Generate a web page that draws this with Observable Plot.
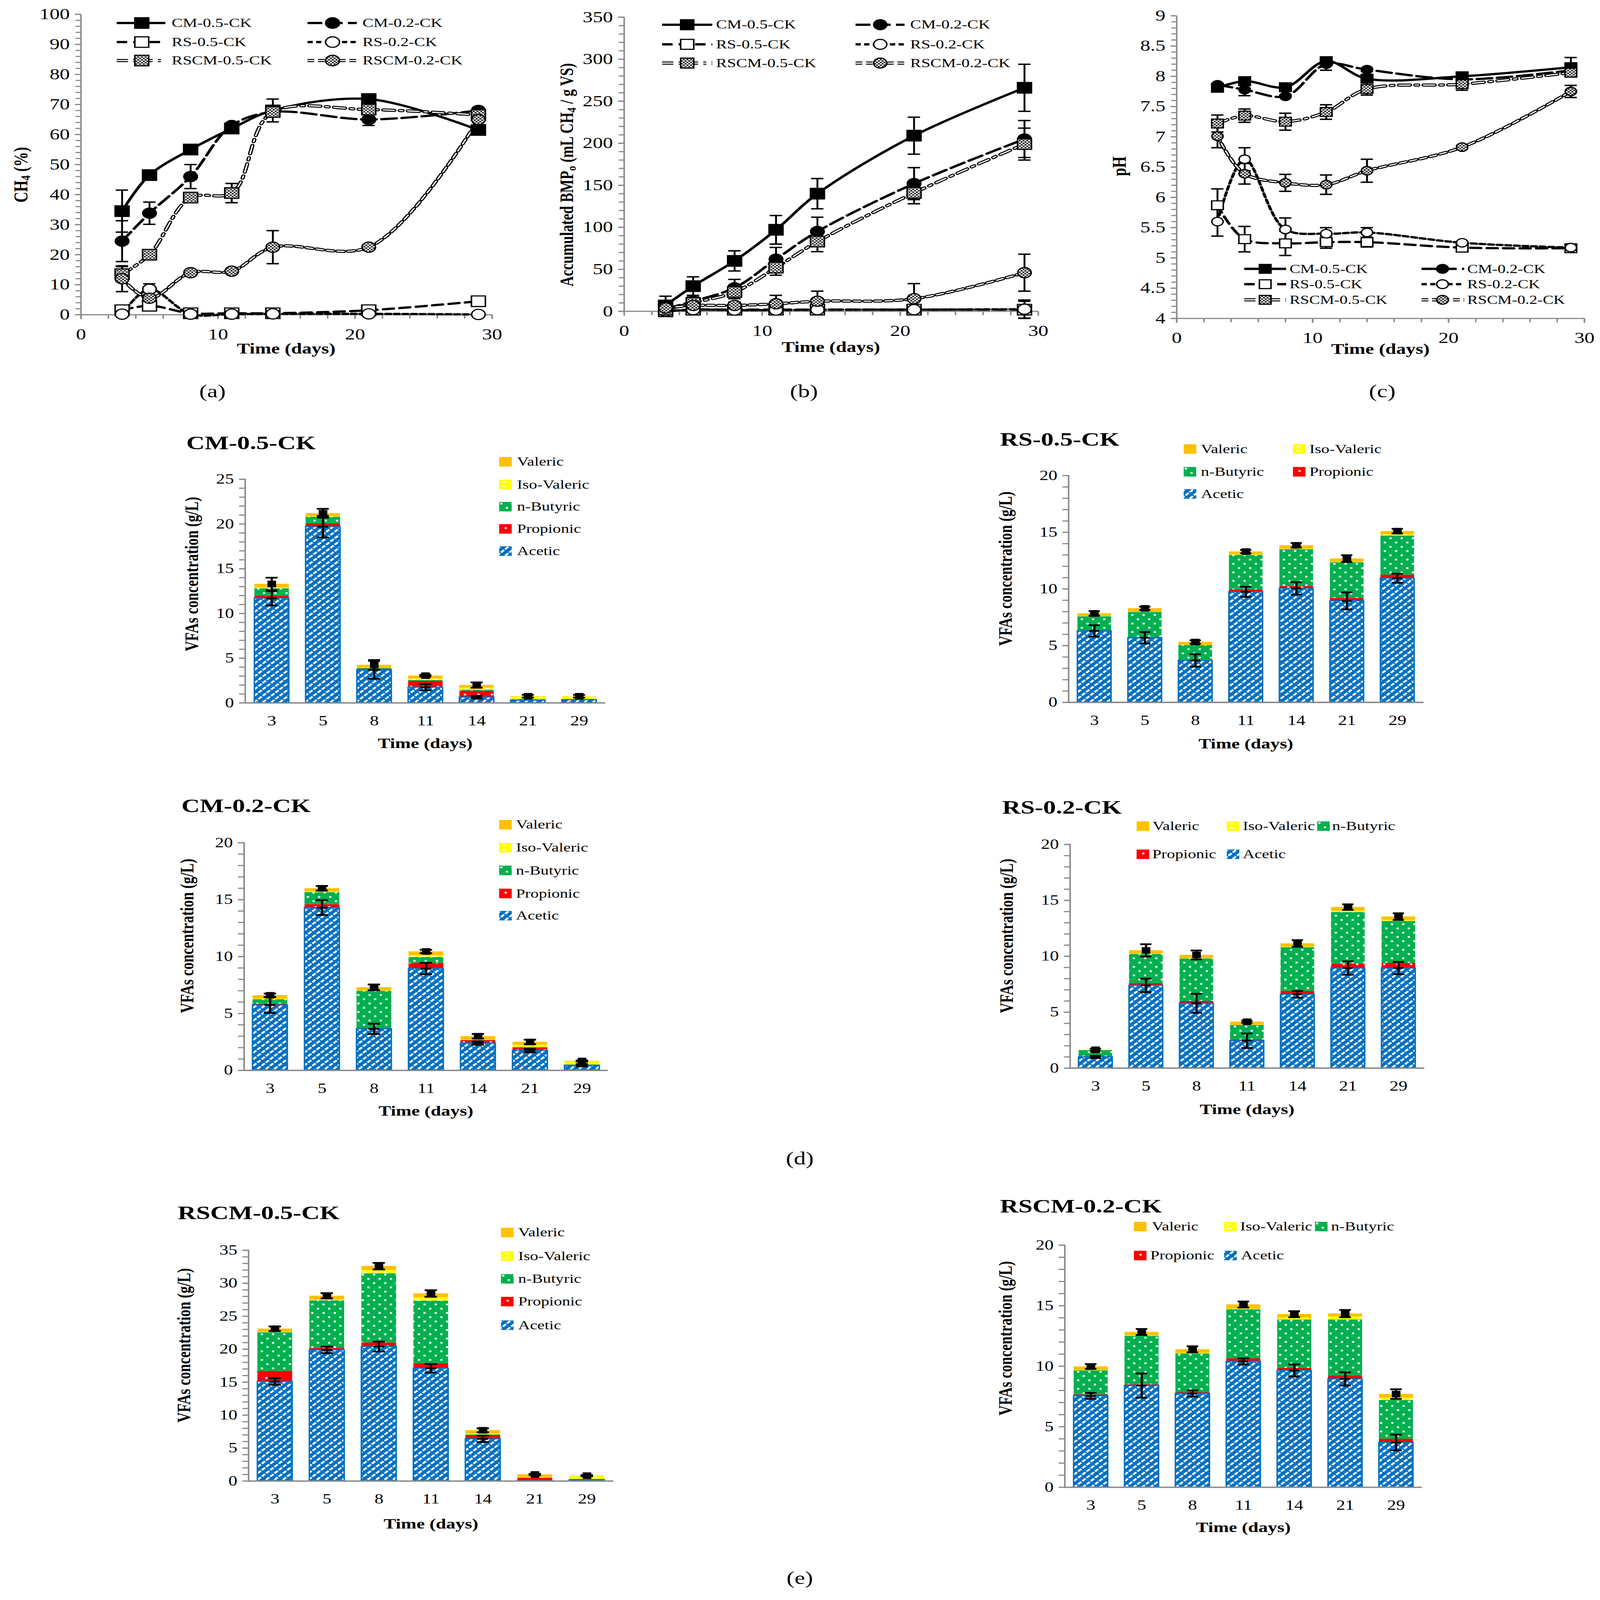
<!DOCTYPE html>
<html><head><meta charset="utf-8">
<script src="https://cdn.jsdelivr.net/npm/d3@7"></script>
<script src="https://cdn.jsdelivr.net/npm/@observablehq/plot@0.6"></script>
<style>
html,body{margin:0;padding:0;background:#fff;overflow:hidden;}
#page{position:relative;width:4277px;height:5630px;background:#fff;overflow:hidden;font-family:"Liberation Serif","Times New Roman",serif;color:#000;}
.t{position:absolute;white-space:nowrap;line-height:1;}
.t sub{font-size:0.68em;vertical-align:-0.22em;line-height:0;}
</style></head>
<body><div id="page">
<svg width="0" height="0" style="position:absolute;left:0;top:0" aria-hidden="true"><defs>
<pattern id="pAcetic" patternUnits="userSpaceOnUse" width="16" height="16" patternTransform="rotate(45)">
<rect width="16" height="16" fill="#0070C0"/><rect x="0" y="0" width="6" height="12" fill="#ffffff"/></pattern>
<pattern id="pProp" patternUnits="userSpaceOnUse" width="36" height="28">
<rect width="36" height="28" fill="#FF0000"/><rect x="15" y="11" width="6" height="6" fill="#ffffff"/></pattern>
<pattern id="pBut" patternUnits="userSpaceOnUse" width="30" height="30">
<rect width="30" height="30" fill="#00B050"/><rect x="3" y="3" width="6" height="6" fill="#ffffff"/><rect x="18" y="18" width="6" height="6" fill="#ffffff"/></pattern>
<pattern id="pIso" patternUnits="userSpaceOnUse" width="28" height="16">
<rect width="28" height="16" fill="#FFFF00"/><rect x="9" y="6" width="10" height="4" fill="#ffffff"/></pattern>
<pattern id="checker" patternUnits="userSpaceOnUse" width="10" height="10">
<rect width="10" height="10" fill="#ffffff"/><rect x="0" y="0" width="5" height="5" fill="#222"/><rect x="5" y="5" width="5" height="5" fill="#222"/></pattern>
</defs></svg>
</div>
<script>
// ---------------- DATA ----------------
const days = [3, 5, 8, 11, 14, 21, 29];
const dayLabels = ["3", "5", "8", "11", "14", "21", "29"];
const seriesNames = ["CM-0.5-CK", "CM-0.2-CK", "RS-0.5-CK", "RS-0.2-CK", "RSCM-0.5-CK", "RSCM-0.2-CK"];

// (a) CH4 (%)
const ch4CM05 = [34.5, 46.5, 55.0, 62.0, 68.0, 71.8, 61.5];
const ch4CM05Err = [7.0, 0.8, 0.8, 0.8, 3.8, 0.8, 0.8];
const ch4CM02 = [24.5, 33.8, 46.0, 63.0, 67.5, 65.0, 68.0];
const ch4CM02Err = [6.8, 3.7, 4.0, 0.5, 0.5, 2.0, 1.0];
const ch4RS05 = [1.5, 3.0, 0.5, 0.5, 0.5, 1.5, 4.5];
const ch4RS05Err = [0.5, 0.5, 0.3, 0.3, 0.3, 0.5, 1.0];
const ch4RS02 = [0.2, 8.5, 0.2, 0.2, 0.3, 0.3, 0.1];
const ch4RS02Err = [0.3, 1.8, 0.2, 0.2, 0.2, 0.2, 0.2];
const ch4RSCM05 = [13.5, 20.0, 39.0, 40.5, 67.5, 68.3, 66.5];
const ch4RSCM05Err = [2.5, 0.5, 0.8, 3.2, 0.5, 0.5, 1.0];
const ch4RSCM02 = [12.0, 5.5, 14.0, 14.5, 22.5, 22.5, 65.0];
const ch4RSCM02Err = [4.3, 1.0, 0.5, 0.5, 5.5, 0.5, 1.0];

// (b) Accumulated BMPo (mL CH4 / g VS)
const bmpCM05 = [7, 30, 60, 97, 140, 209, 266];
const bmpCM05Err = [11, 11, 12, 17, 18, 22, 28];
const bmpCM02 = [3, 12, 28, 62, 95, 152, 205];
const bmpCM02Err = [3, 5, 10, 14, 17, 19, 22];
const bmpRS05 = [0, 2, 2, 2, 2, 2, 2];
const bmpRS05Err = [0.5, 0.5, 0.5, 0.5, 0.5, 0.5, 10];
const bmpRS02 = [0, 2, 1.5, 1.5, 2, 2, 2.5];
const bmpRS02Err = [0.5, 0.5, 0.5, 0.5, 0.5, 0.5, 11];
const bmpRSCM05 = [2, 10, 23, 52, 83, 141, 199];
const bmpRSCM05Err = [2, 5, 8, 9, 12, 13, 19];
const bmpRSCM02 = [4, 7, 7, 9, 12, 15, 46];
const bmpRSCM02Err = [2, 4, 4, 10, 12, 18, 22];

// (c) pH
const phCM05 = [7.81, 7.92, 7.82, 8.25, 7.96, 8.00, 8.15];
const phCM05Err = [0.02, 0.03, 0.03, 0.04, 0.05, 0.03, 0.16];
const phCM02 = [7.86, 7.78, 7.67, 8.20, 8.11, 7.95, 8.10];
const phCM02Err = [0.02, 0.10, 0.02, 0.10, 0.03, 0.03, 0.05];
const phRS05 = [5.87, 5.31, 5.24, 5.26, 5.26, 5.17, 5.16];
const phRS05Err = [0.27, 0.21, 0.20, 0.10, 0.08, 0.02, 0.02];
const phRS02 = [5.60, 6.63, 5.47, 5.40, 5.42, 5.25, 5.17];
const phRS02Err = [0.24, 0.19, 0.19, 0.10, 0.08, 0.02, 0.02];
const phRSCM05 = [7.22, 7.35, 7.25, 7.41, 7.79, 7.87, 8.06];
const phRSCM05Err = [0.14, 0.11, 0.14, 0.12, 0.10, 0.10, 0.05];
const phRSCM02 = [7.01, 6.39, 6.24, 6.21, 6.44, 6.83, 7.75];
const phRSCM02Err = [0.19, 0.17, 0.14, 0.16, 0.19, 0.03, 0.10];

// VFAs (g/L): stack order Acetic, Propionic, n-Butyric, Iso-Valeric, Valeric
const acidNames = ["Acetic", "Propionic", "n-Butyric", "Iso-Valeric", "Valeric"];

const cm05Acetic = [11.7, 19.7, 3.70, 1.75, 0.65, 0.30, 0.35];
const cm05Propionic = [0.30, 0.35, 0.10, 0.70, 0.70, 0.05, 0.05];
const cm05Butyric = [0.80, 0.75, 0.10, 0.10, 0.10, 0.05, 0.02];
const cm05IsoValeric = [0.10, 0.05, 0.05, 0.15, 0.25, 0.30, 0.30];
const cm05Valeric = [0.40, 0.35, 0.30, 0.35, 0.30, 0.05, 0.03];
const cm05AceticErr = [0.80, 1.20, 1.00, 0.35, 0.15, 0, 0];
const cm05TotalErr = [0.70, 0.50, 0.55, 0.10, 0.30, 0.15, 0.15];

const rs05Acetic = [6.30, 5.70, 3.70, 9.75, 10.05, 8.95, 10.95];
const rs05Propionic = [0.03, 0.02, 0.05, 0.20, 0.20, 0.25, 0.30];
const rs05Butyric = [1.25, 2.25, 1.30, 3.05, 3.25, 3.15, 3.45];
const rs05IsoValeric = [0.02, 0.02, 0.02, 0.05, 0.05, 0.03, 0.10];
const rs05Valeric = [0.25, 0.30, 0.25, 0.25, 0.30, 0.30, 0.30];
const rs05AceticErr = [0.50, 0.50, 0.55, 0.45, 0.55, 0.75, 0.40];
const rs05TotalErr = [0.20, 0.15, 0.15, 0.15, 0.20, 0.30, 0.20];

const cm02Acetic = [5.75, 14.30, 3.65, 8.95, 2.40, 1.75, 0.45];
const cm02Propionic = [0.10, 0.30, 0.03, 0.50, 0.25, 0.25, 0.02];
const cm02Butyric = [0.40, 1.05, 3.30, 0.50, 0.02, 0.05, 0.01];
const cm02IsoValeric = [0.05, 0.05, 0.02, 0.15, 0.03, 0.20, 0.30];
const cm02Valeric = [0.30, 0.30, 0.30, 0.35, 0.30, 0.25, 0.05];
const cm02AceticErr = [0.70, 0.65, 0.45, 0.50, 0.15, 0.15, 0.10];
const cm02TotalErr = [0.15, 0.20, 0.25, 0.15, 0.20, 0.20, 0.05];

const rs02Acetic = [1.00, 7.40, 5.80, 2.45, 6.60, 8.95, 8.95];
const rs02Propionic = [0.05, 0.20, 0.20, 0.10, 0.30, 0.40, 0.45];
const rs02Butyric = [0.55, 2.60, 3.80, 1.30, 3.90, 4.60, 3.75];
const rs02IsoValeric = [0.02, 0.03, 0.02, 0.02, 0.05, 0.10, 0.10];
const rs02Valeric = [0.02, 0.30, 0.30, 0.28, 0.30, 0.35, 0.30];
const rs02AceticErr = [0.10, 0.60, 0.85, 0.65, 0.30, 0.60, 0.55];
const rs02TotalErr = [0.10, 0.55, 0.40, 0.10, 0.30, 0.25, 0.30];

const rscm05Acetic = [15.10, 19.90, 20.40, 17.10, 6.40, 0.05, 0.20];
const rscm05Propionic = [1.60, 0.25, 0.60, 0.75, 0.55, 0.45, 0.05];
const rscm05Butyric = [5.85, 7.25, 10.50, 9.50, 0.10, 0.00, 0.02];
const rscm05IsoValeric = [0.05, 0.10, 0.50, 0.50, 0.15, 0.05, 0.50];
const rscm05Valeric = [0.50, 0.60, 0.60, 0.60, 0.50, 0.45, 0.05];
const rscm05AceticErr = [0.50, 0.50, 0.75, 0.65, 0.50, 0, 0];
const rscm05TotalErr = [0.35, 0.40, 0.50, 0.50, 0.30, 0.10, 0.10];

const rscm02Acetic = [7.55, 8.40, 7.75, 10.40, 9.65, 8.95, 3.70];
const rscm02Propionic = [0.10, 0.10, 0.10, 0.25, 0.20, 0.30, 0.30];
const rscm02Butyric = [2.00, 4.00, 3.20, 4.05, 4.00, 4.60, 3.20];
const rscm02IsoValeric = [0.03, 0.03, 0.05, 0.05, 0.15, 0.25, 0.20];
const rscm02Valeric = [0.30, 0.30, 0.30, 0.35, 0.30, 0.25, 0.30];
const rscm02AceticErr = [0.25, 1.00, 0.25, 0.25, 0.50, 0.55, 0.65];
const rscm02TotalErr = [0.20, 0.25, 0.25, 0.25, 0.25, 0.30, 0.40];

// ---------------- STYLE ----------------
const AXIS = "#888888";
const FONT = '"Liberation Serif", "Times New Roman", serif';
const acidFills = ["url(#pAcetic)", "url(#pProp)", "url(#pBut)", "url(#pIso)", "#FFC000"];
const FILL = Object.fromEntries(acidNames.map((a, i) => [a, acidFills[i]]));
const STYLE = {
  "CM-0.5-CK": {dash: null, symbol: "square", fill: "black", double: false},
  "CM-0.2-CK": {dash: "40,14", symbol: "circle", fill: "black", double: false},
  "RS-0.5-CK": {dash: "28,16", symbol: "square", fill: "white", double: false},
  "RS-0.2-CK": {dash: "14,9", symbol: "circle", fill: "white", double: false},
  "RSCM-0.5-CK": {dash: "30,14,8,14", symbol: "square", fill: "url(#checker)", double: true},
  "RSCM-0.2-CK": {dash: "18,10", symbol: "circle", fill: "url(#checker)", double: true}
};

const page = document.getElementById("page");
function place(el, left, top) {
  el.style.position = "absolute";
  el.style.left = left + "px";
  el.style.top = top + "px";
  page.appendChild(el);
  return el;
}
const texts = [];
function addText(html, x, y, size, opt = {}) {
  texts.push({html, x, y, size, ...opt});
}
function flushTexts() {
  for (const t of texts) {
    const d = document.createElement("div");
    d.className = "t";
    d.innerHTML = t.html;
    d.style.left = t.x + "px";
    d.style.top = t.y + "px";
    d.style.fontSize = t.size + "px";
    d.style.fontWeight = t.bold ? "bold" : "normal";
    d.style.transform = t.rotate ? "translate(-50%,-50%) rotate(-90deg)" : (t.anchor === "middle" ? "translate(-50%,-50%)" : "translate(0,-50%)");
    page.appendChild(d);
  }
}

// ---------------- LINE PANELS ----------------
function linePanel(cfg) {
  const mL = 160, mR = 60, mT = 40, mB = 130;
  const W = cfg.R - cfg.L + mL + mR, H = cfg.B - cfg.T + mT + mB;
  const series = cfg.series.map(s => ({name: s.name, rows: days.map((d, i) => ({day: d, v: s.values[i], e: s.errs[i]}))}));
  const fmt = d => String(d);
  const cap = 0.45;
  const marks = [
    Plot.axisY({ticks: cfg.yMinor, tickSize: 14, tickFormat: () => "", stroke: AXIS, strokeWidth: 4, label: null}),
    Plot.axisY({ticks: cfg.yMajor, tickSize: 16, tickPadding: 14, tickFormat: fmt, stroke: AXIS, strokeWidth: 4, fill: "black", fontSize: 54, label: null}),
    Plot.axisX({ticks: d3.range(0, 31, 2), tickSize: 14, tickFormat: () => "", stroke: AXIS, strokeWidth: 4, label: null}),
    Plot.axisX({ticks: [0, 10, 20, 30], tickSize: 16, tickPadding: 32, tickFormat: fmt, stroke: AXIS, strokeWidth: 4, fill: "black", fontSize: 54, label: null}),
    Plot.ruleX([0], {stroke: AXIS, strokeWidth: 4}),
    Plot.ruleY([cfg.yDomain[0]], {stroke: AXIS, strokeWidth: 4})
  ];
  for (const s of series) {
    const st = STYLE[s.name];
    if (st.double) {
      marks.push(Plot.line(s.rows, {x: "day", y: "v", curve: "catmull-rom", stroke: "black", strokeWidth: 11, strokeDasharray: st.dash}));
      marks.push(Plot.line(s.rows, {x: "day", y: "v", curve: "catmull-rom", stroke: "white", strokeWidth: 4, strokeDasharray: st.dash}));
    } else {
      marks.push(Plot.line(s.rows, {x: "day", y: "v", curve: "catmull-rom", stroke: "black", strokeWidth: 8, strokeDasharray: st.dash}));
    }
  }
  for (const s of series) {
    const er = s.rows.filter(r => r.e > 0);
    marks.push(Plot.ruleX(er, {x: "day", y1: d => d.v - d.e, y2: d => d.v + d.e, stroke: "black", strokeWidth: 5}));
    marks.push(Plot.ruleY(er, {y: d => d.v + d.e, x1: d => d.day - cap, x2: d => d.day + cap, stroke: "black", strokeWidth: 5}));
    marks.push(Plot.ruleY(er, {y: d => d.v - d.e, x1: d => d.day - cap, x2: d => d.day + cap, stroke: "black", strokeWidth: 5}));
  }
  for (const s of series) {
    const st = STYLE[s.name];
    marks.push(Plot.dot(s.rows, {x: "day", y: "v", symbol: st.symbol, r: st.symbol === "square" ? cfg.sq : cfg.ci, fill: st.fill, stroke: "black", strokeWidth: 4}));
  }
  const plot = Plot.plot({
    width: W, height: H, marginLeft: mL, marginRight: mR, marginTop: mT, marginBottom: mB,
    x: {domain: [0, 30], label: null},
    y: {domain: cfg.yDomain, label: null},
    style: {fontFamily: FONT, fontSize: "54px", background: "transparent", overflow: "visible", color: "black"},
    marks
  });
  place(plot, cfg.L - mL, cfg.T - mT);
  cfg.legend.rows.forEach((y, ri) => {
    cfg.legend.cols.forEach((c, ci) => {
      const name = seriesNames[ri * 2 + ci];
      legendLine(name, c.x1, c.x2, c.mx, y, cfg.legend.msize);
      addText(name, c.tx, y, cfg.legend.font);
    });
  });
}

function legendLine(name, x1, x2, mx, y, ms) {
  const st = STYLE[name];
  const h = 60;
  const svg = d3.create("svg").attr("width", x2 - x1).attr("height", h).style("overflow", "visible");
  const addL = (stroke, w) => svg.append("line").attr("x1", 0).attr("x2", x2 - x1).attr("y1", h / 2).attr("y2", h / 2)
    .attr("stroke", stroke).attr("stroke-width", w).attr("stroke-dasharray", st.dash);
  if (st.double) { addL("black", 11); addL("white", 4); } else addL("black", 8);
  if (st.symbol === "square") {
    svg.append("rect").attr("x", mx - x1 - ms / 2).attr("y", h / 2 - ms / 2).attr("width", ms).attr("height", ms)
      .attr("fill", st.fill).attr("stroke", "black").attr("stroke-width", 4);
  } else {
    svg.append("circle").attr("cx", mx - x1).attr("cy", h / 2).attr("r", ms / 2)
      .attr("fill", st.fill).attr("stroke", "black").attr("stroke-width", 4);
  }
  place(svg.node(), x1, y - h / 2);
}

linePanel({
  L: 216, R: 1315, T: 50, B: 1107, yDomain: [0, 100], yMajor: d3.range(0, 101, 10), yMinor: d3.range(0, 101, 2), sq: 21, ci: 18,
  series: [
    {name: "CM-0.5-CK", values: ch4CM05, errs: ch4CM05Err},
    {name: "CM-0.2-CK", values: ch4CM02, errs: ch4CM02Err},
    {name: "RS-0.5-CK", values: ch4RS05, errs: ch4RS05Err},
    {name: "RS-0.2-CK", values: ch4RS02, errs: ch4RS02Err},
    {name: "RSCM-0.5-CK", values: ch4RSCM05, errs: ch4RSCM05Err},
    {name: "RSCM-0.2-CK", values: ch4RSCM02, errs: ch4RSCM02Err}
  ],
  legend: {rows: [81, 148, 213], font: 44, msize: 37,
    cols: [{x1: 312, x2: 442, mx: 379, tx: 459}, {x1: 822, x2: 954, mx: 889, tx: 969}]}
});
linePanel({
  L: 1668, R: 2775, T: 60, B: 1095, yDomain: [0, 350], yMajor: d3.range(0, 351, 50), yMinor: d3.range(0, 351, 10), sq: 21, ci: 18,
  series: [
    {name: "CM-0.5-CK", values: bmpCM05, errs: bmpCM05Err},
    {name: "CM-0.2-CK", values: bmpCM02, errs: bmpCM02Err},
    {name: "RS-0.5-CK", values: bmpRS05, errs: bmpRS05Err},
    {name: "RS-0.2-CK", values: bmpRS02, errs: bmpRS02Err},
    {name: "RSCM-0.5-CK", values: bmpRSCM05, errs: bmpRSCM05Err},
    {name: "RSCM-0.2-CK", values: bmpRSCM02, errs: bmpRSCM02Err}
  ],
  legend: {rows: [87, 156, 222], font: 44, msize: 35,
    cols: [{x1: 1770, x2: 1904, mx: 1837, tx: 1914}, {x1: 2287, x2: 2418, mx: 2353, tx: 2433}]}
});
linePanel({
  L: 3145, R: 4235, T: 55, B: 1120, yDomain: [4, 9], yMajor: d3.range(8, 19, 1).map(d => d / 2), yMinor: d3.range(40, 91, 1).map(d => d / 10), sq: 17.5, ci: 15,
  series: [
    {name: "CM-0.5-CK", values: phCM05, errs: phCM05Err},
    {name: "CM-0.2-CK", values: phCM02, errs: phCM02Err},
    {name: "RS-0.5-CK", values: phRS05, errs: phRS05Err},
    {name: "RS-0.2-CK", values: phRS02, errs: phRS02Err},
    {name: "RSCM-0.5-CK", values: phRSCM05, errs: phRSCM05Err},
    {name: "RSCM-0.2-CK", values: phRSCM02, errs: phRSCM02Err}
  ],
  legend: {rows: [946, 1000, 1055], font: 43, msize: 31,
    cols: [{x1: 3326, x2: 3438, mx: 3382, tx: 3447}, {x1: 3800, x2: 3914, mx: 3856, tx: 3922}]}
});

addText("Time (days)", 765, 1227, 52, {anchor: "middle", bold: true});
addText("CH<sub>4</sub> (%)", 56, 615, 52, {rotate: true, bold: true});
addText("Time (days)", 2221, 1222, 52, {anchor: "middle", bold: true});
addText("Accumulated BMP<sub>o</sub> (mL CH<sub>4</sub> / g VS)", 1515, 615, 50, {rotate: true, bold: true});
addText("Time (days)", 3690, 1228, 52, {anchor: "middle", bold: true});
addText("pH", 2992, 585, 52, {rotate: true, bold: true});
addText("(a)", 568, 1377, 64, {anchor: "middle"});
addText("(b)", 2149, 1377, 64, {anchor: "middle"});
addText("(c)", 3695, 1377, 64, {anchor: "middle"});

// ---------------- BAR PANELS ----------------
function barChart(c) {
  const mL = 150, mR = 40, mT = 40, mB = 120;
  const W = c.xEnd - c.axisX + mL + mR, H = c.yZero - c.yTop + mT + mB;
  const rows = [];
  c.values.forEach((arr, i) => arr.forEach((v, j) => rows.push({day: dayLabels[j], acid: acidNames[i], value: v})));
  const tot = dayLabels.map((d, j) => ({day: d, y: d3.sum(c.values, a => a[j]), e: c.totalErr[j]}));
  const ace = dayLabels.map((d, j) => ({day: d, y: c.values[0][j], e: c.aceticErr[j]}));
  const errs = ace.concat(tot).filter(r => r.e > 0);
  const aceE = ace.filter(r => r.e > 0);
  const plot = Plot.plot({
    width: W, height: H, marginLeft: mL, marginRight: mR, marginTop: mT, marginBottom: mB,
    x: {domain: dayLabels, paddingInner: 0.33, paddingOuter: 0.165, label: null},
    y: {domain: [0, c.yMax], label: null},
    color: {type: "ordinal", domain: acidNames, range: acidFills},
    style: {fontFamily: FONT, fontSize: "46px", background: "transparent", overflow: "visible", color: "black"},
    marks: [
      Plot.barY(rows, Plot.stackY({x: "day", y: "value", fill: "acid", order: acidNames})),
      Plot.barY(ace, {x: "day", y: "y", fill: "none", stroke: "#0070C0", strokeWidth: 4}),
      Plot.axisY({ticks: d3.range(0, c.yMax + 0.5, 1), tickSize: 16, tickFormat: () => "", stroke: AXIS, strokeWidth: 4, label: null}),
      Plot.axisY({ticks: d3.range(0, c.yMax + 0.5, 5), tickSize: 16, tickPadding: 14, tickFormat: d => String(d), stroke: AXIS, strokeWidth: 4, fill: "black", fontSize: 48, label: null}),
      Plot.axisX({tickSize: 0, tickPadding: 45, fill: "black", fontSize: 48, label: null}),
      Plot.frame({anchor: "left", stroke: AXIS, strokeWidth: 4}),
      Plot.ruleY([0], {stroke: AXIS, strokeWidth: 5}),
      Plot.ruleX(errs, {x: "day", y1: d => d.y - d.e, y2: d => d.y + d.e, stroke: "black", strokeWidth: 6}),
      Plot.tickY(errs, {x: "day", y: d => d.y + d.e, stroke: "black", strokeWidth: 6, inset: 30}),
      Plot.tickY(errs, {x: "day", y: d => d.y - d.e, stroke: "black", strokeWidth: 6, inset: 30}),
      Plot.tickY(aceE, {x: "day", y: "y", stroke: "black", strokeWidth: 6, inset: 32}),
      Plot.dot(tot, {x: "day", y: "y", symbol: "square", r: 13, fill: "black"})
    ]
  });
  place(plot, c.axisX - mL, c.yTop - mT);
  addText(c.title, c.titleX, c.titleY, 68, {bold: true});
  addText("VFAs concentration (g/L)", c.yTitleX, c.yTitleY, 50, {rotate: true, bold: true});
  addText("Time (days)", (c.axisX + c.xEnd) / 2, c.timeY, 50, {anchor: "middle", bold: true});
  for (const L of c.legend) {
    const s = 34;
    const sw = d3.create("svg").attr("width", s).attr("height", s);
    sw.append("rect").attr("width", s).attr("height", s).attr("fill", FILL[L.acid]);
    place(sw.node(), L.sx, L.y - s / 2);
    addText(L.acid, L.tx, L.y, 44);
  }
}
function colLegend(sx, tx, ys) {
  const order = ["Valeric", "Iso-Valeric", "n-Butyric", "Propionic", "Acetic"];
  return order.map((acid, i) => ({acid, sx, tx, y: ys[i]}));
}

barChart({
  title: "CM-0.5-CK", titleX: 498, titleY: 1558, yTitleX: 512, yTitleY: 2020, timeY: 2615,
  axisX: 655, xEnd: 1618, yTop: 1686, yZero: 2473, yMax: 25,
  values: [cm05Acetic, cm05Propionic, cm05Butyric, cm05IsoValeric, cm05Valeric],
  aceticErr: cm05AceticErr, totalErr: cm05TotalErr,
  legend: colLegend(1334, 1382, [1625, 1705, 1783, 1861, 1939])
});
barChart({
  title: "RS-0.5-CK", titleX: 2673, titleY: 1545, yTitleX: 2687, yTitleY: 2001, timeY: 2617,
  axisX: 2856, xEnd: 3805, yTop: 1673, yZero: 2471, yMax: 20,
  values: [rs05Acetic, rs05Propionic, rs05Butyric, rs05IsoValeric, rs05Valeric],
  aceticErr: rs05AceticErr, totalErr: rs05TotalErr,
  legend: [
    {acid: "Valeric", sx: 3164, tx: 3210, y: 1580}, {acid: "Iso-Valeric", sx: 3456, tx: 3500, y: 1580},
    {acid: "n-Butyric", sx: 3164, tx: 3210, y: 1660}, {acid: "Propionic", sx: 3456, tx: 3500, y: 1660},
    {acid: "Acetic", sx: 3164, tx: 3210, y: 1738}
  ]
});
barChart({
  title: "CM-0.2-CK", titleX: 485, titleY: 2835, yTitleX: 500, yTitleY: 3293, timeY: 3909,
  axisX: 652, xEnd: 1625, yTop: 2965, yZero: 3766, yMax: 20,
  values: [cm02Acetic, cm02Propionic, cm02Butyric, cm02IsoValeric, cm02Valeric],
  aceticErr: cm02AceticErr, totalErr: cm02TotalErr,
  legend: colLegend(1334, 1379, [2902, 2983, 3063, 3144, 3222])
});
barChart({
  title: "RS-0.2-CK", titleX: 2679, titleY: 2840, yTitleX: 2691, yTitleY: 3293, timeY: 3903,
  axisX: 2860, xEnd: 3807, yTop: 2971, yZero: 3758, yMax: 20,
  values: [rs02Acetic, rs02Propionic, rs02Butyric, rs02IsoValeric, rs02Valeric],
  aceticErr: rs02AceticErr, totalErr: rs02TotalErr,
  legend: [
    {acid: "Valeric", sx: 3038, tx: 3081, y: 2907}, {acid: "Iso-Valeric", sx: 3279, tx: 3322, y: 2907},
    {acid: "n-Butyric", sx: 3521, tx: 3561, y: 2907},
    {acid: "Propionic", sx: 3038, tx: 3080, y: 3006}, {acid: "Acetic", sx: 3279, tx: 3322, y: 3006}
  ]
});
addText("(d)", 2138, 4076, 64, {anchor: "middle"});
barChart({
  title: "RSCM-0.5-CK", titleX: 475, titleY: 4267, yTitleX: 491, yTitleY: 4734, timeY: 5361,
  axisX: 664, xEnd: 1640, yTop: 4399, yZero: 5211, yMax: 35,
  values: [rscm05Acetic, rscm05Propionic, rscm05Butyric, rscm05IsoValeric, rscm05Valeric],
  aceticErr: rscm05AceticErr, totalErr: rscm05TotalErr,
  legend: colLegend(1339, 1385, [4337, 4420, 4500, 4580, 4663])
});
barChart({
  title: "RSCM-0.2-CK", titleX: 2673, titleY: 4244, yTitleX: 2687, yTitleY: 4709, timeY: 5374,
  axisX: 2846, xEnd: 3801, yTop: 4381, yZero: 5233, yMax: 20,
  values: [rscm02Acetic, rscm02Propionic, rscm02Butyric, rscm02IsoValeric, rscm02Valeric],
  aceticErr: rscm02AceticErr, totalErr: rscm02TotalErr,
  legend: [
    {acid: "Valeric", sx: 3031, tx: 3079, y: 4316}, {acid: "Iso-Valeric", sx: 3272, tx: 3315, y: 4316},
    {acid: "n-Butyric", sx: 3515, tx: 3558, y: 4316},
    {acid: "Propionic", sx: 3031, tx: 3075, y: 4418}, {acid: "Acetic", sx: 3272, tx: 3317, y: 4418}
  ]
});
addText("(e)", 2138, 5553, 64, {anchor: "middle"});
flushTexts();

// fit the 4277x5630 figure into the actual viewport if the window is smaller
const vw = window.innerWidth, vh = window.innerHeight;
if (vw > 0 && vh > 0 && (vw < 4277 || vh < 5630)) {
  page.style.transformOrigin = "0 0";
  page.style.transform = `scale(${vw / 4277}, ${vh / 5630})`;
}
</script></body></html>
